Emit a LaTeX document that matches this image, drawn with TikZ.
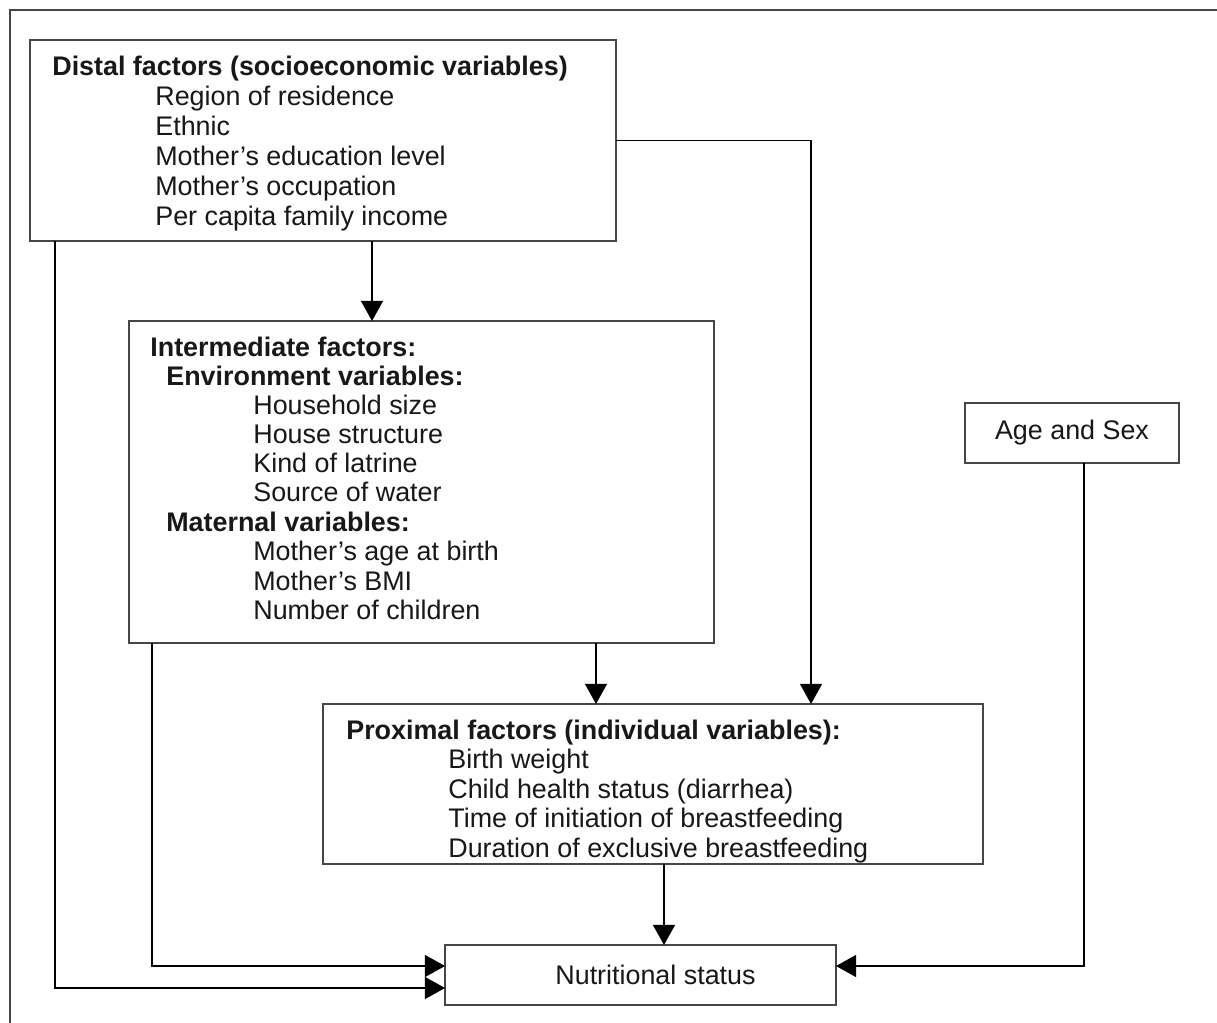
\documentclass[tikz,border=0pt]{standalone}
\usepackage{fontspec}
\setmainfont{Liberation Sans}
\usetikzlibrary{arrows.meta}
\definecolor{ink}{RGB}{24,24,24}
\definecolor{rule}{RGB}{70,70,70}

\begin{document}
\begin{tikzpicture}[x=0.02cm, y=-0.02cm,
  box/.style={draw=rule, line width=1pt, inner sep=0pt, outer sep=0pt, fill=white, text=ink, font=\fontsize{15.3}{17}\selectfont},
  txt/.style={anchor=base west, inner sep=0pt, text=ink, font=\fontsize{15.3}{17}\selectfont},
  head/.style={txt, font=\fontsize{15.3}{17}\selectfont\bfseries},
  link/.style={draw=black, line width=1pt, -{Triangle[width=12.5pt, length=11.5pt]}}]
  \useasboundingbox (0,0) rectangle (1217,1023);
  \fill[white] (0,0) rectangle (1217,1023);
  \draw[rule, line width=1pt] (10,1023) -- (10,10) -- (1217,10);

  % boxes
  \node[box, minimum width=11.72cm, minimum height=4.02cm] (distal) at (323,140.5) {};
  \node[box, minimum width=11.70cm, minimum height=6.44cm] (inter) at (421.5,482) {};
  \node[box, minimum width=4.28cm, minimum height=1.20cm] (agesex) at (1072,433) {Age and Sex};
  \node[box, minimum width=13.20cm, minimum height=3.20cm] (proximal) at (653,784) {};
  \node[box, minimum width=7.82cm, minimum height=1.20cm] (nutri) at (640.5,975) {\hspace{0.6cm}Nutritional status};

  % distal texts
  \node[head] (dhead) at (52,76) {Distal factors (socioeconomic variables)};
  \foreach \t [count=\i] in {Region of residence, Ethnic, Mother's education level,
      Mother's occupation, Per capita family income}
    \node[txt] (d\i) at (155,{76+30*\i}) {\t};

  % intermediate texts
  \node[head] (ihead) at (150,357) {Intermediate factors:};
  \node[head] (ienv) at (166,386) {Environment variables:};
  \foreach \t [count=\i] in {Household size, House structure, Kind of latrine, Source of water}
    \node[txt] (e\i) at (253,{386+29*\i}) {\t};
  \node[head] (imat) at (166,532) {Maternal variables:};
  \foreach \t [count=\i] in {Mother's age at birth, Mother's BMI, Number of children}
    \node[txt] (m\i) at (253,{532+29*\i}) {\t};

  % proximal texts
  \node[head] (phead) at (346,739) {Proximal factors (individual variables):};
  \foreach \t [count=\i] in {Birth weight, Child health status (diarrhea),
      Time of initiation of breastfeeding, Duration of exclusive breastfeeding}
    \node[txt] (p\i) at (448,{739+29.5*\i}) {\t};

  % helper coordinates for the connector lanes
  \coordinate (xa) at (55,0);
  \coordinate (xb) at (152,0);
  \coordinate (xc) at (372,0);
  \coordinate (xd) at (596,0);
  \coordinate (xe) at (664,0);
  \coordinate (xf) at (811,0);
  \coordinate (xg) at (1084,0);
  \coordinate (ya) at (0,966);
  \coordinate (yb) at (0,988);

  % connectors
  \draw[link] (distal.south -| xc) -- (inter.north -| xc);
  \draw[link] (distal.east) -| (proximal.north -| xf);
  \draw[link] (distal.south -| xa) |- (nutri.west |- yb);
  \draw[link] (inter.south -| xb) |- (nutri.west |- ya);
  \draw[link] (inter.south -| xd) -- (proximal.north -| xd);
  \draw[link] (proximal.south -| xe) -- (nutri.north -| xe);
  \draw[link] (agesex.south -| xg) |- (nutri.east |- ya);
\end{tikzpicture}
\end{document}
